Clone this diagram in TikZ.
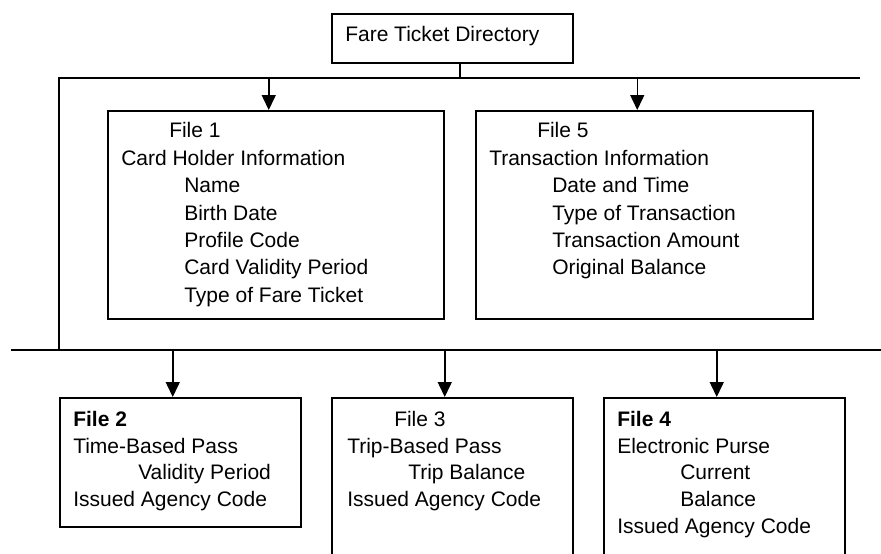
\documentclass[tikz,border=0pt]{standalone}
\usepackage{fontspec}
\setmainfont{Liberation Sans}
\usetikzlibrary{arrows.meta}

\newcommand{\boxfont}{\fontsize{21}{27}\selectfont}
% width, height, first baseline, line skip, lines
\newcommand{\filetext}[5]{\parbox[t][#2][t]{#1}{\baselineskip=#4\leftskip=13.5pt\rule{0pt}{#3}#5}}

\begin{document}
\begin{tikzpicture}[x=1pt, y=-1pt, line width=1.5pt,
  filebox/.style={draw, anchor=north west, inner sep=0pt, font=\boxfont},
  arr/.style={-{Triangle[width=14pt,length=15pt]}}]

\clip (0,0) rectangle (881,554);

% directory on top
\node[filebox] (dir) at (331,13) {\filetext{241pt}{49pt}{27.5pt}{27pt}{Fare Ticket Directory}};

\coordinate (topbusL) at (59,78);
\coordinate (topbusR) at (860,78);
\coordinate (lowbusL) at (11,350);
\coordinate (lowbusR) at (881,350);

% first level
\node[filebox] (file1) at (107,110) {\filetext{336pt}{208pt}{27.2pt}{27.4pt}{%
  \hspace*{48pt}File 1\\
  Card Holder Information\\
  \hspace*{63pt}Name\\
  \hspace*{63pt}Birth Date\\
  \hspace*{63pt}Profile Code\\
  \hspace*{63pt}Card Validity Period\\
  \hspace*{63pt}Type of Fare Ticket}};
\node[filebox] (file5) at (475,110) {\filetext{337pt}{208pt}{27.2pt}{27.4pt}{%
  \hspace*{48pt}File 5\\
  Transaction Information\\
  \hspace*{63pt}Date and Time\\
  \hspace*{63pt}Type of Transaction\\
  \hspace*{63pt}Transaction Amount\\
  \hspace*{63pt}Original Balance}};

% second level
\node[filebox] (file2) at (59,397) {\filetext{241pt}{129pt}{28.7pt}{26.7pt}{%
  \textbf{File 2}\\
  Time-Based Pass\\
  \hspace*{65pt}Validity Period\\
  Issued Agency Code}};
\node[filebox] (file3) at (331,397) {\filetext{241pt}{180pt}{28.7pt}{26.7pt}{%
  \hspace*{49pt}File 3\\
  \hspace*{2pt}Trip-Based Pass\\
  \hspace*{63pt}Trip Balance\\
  \hspace*{2pt}Issued Agency Code}};
\node[filebox] (file4) at (603,397) {\filetext{241pt}{180pt}{28.7pt}{26.7pt}{%
  \textbf{File 4}\\
  Electronic Purse\\
  \hspace*{63pt}Current\\
  \hspace*{63pt}Balance\\
  Issued Agency Code}};

% bus lines
\draw ([xshift=7.5pt]dir.south) -- ([xshift=7.5pt]dir.south |- topbusL);
\draw (lowbusL -| topbusL) -- (topbusL) -- (topbusR);
\draw (lowbusL) -- (lowbusR);

\foreach \f in {file1,file5}
  \draw[arr] ([xshift=-7pt]\f.north |- topbusL) -- ([xshift=-7pt]\f.north);
\foreach \f in {file2,file3,file4}
  \draw[arr] ([xshift=-7.5pt]\f.north |- lowbusL) -- ([xshift=-7.5pt]\f.north);

\end{tikzpicture}
\end{document}
